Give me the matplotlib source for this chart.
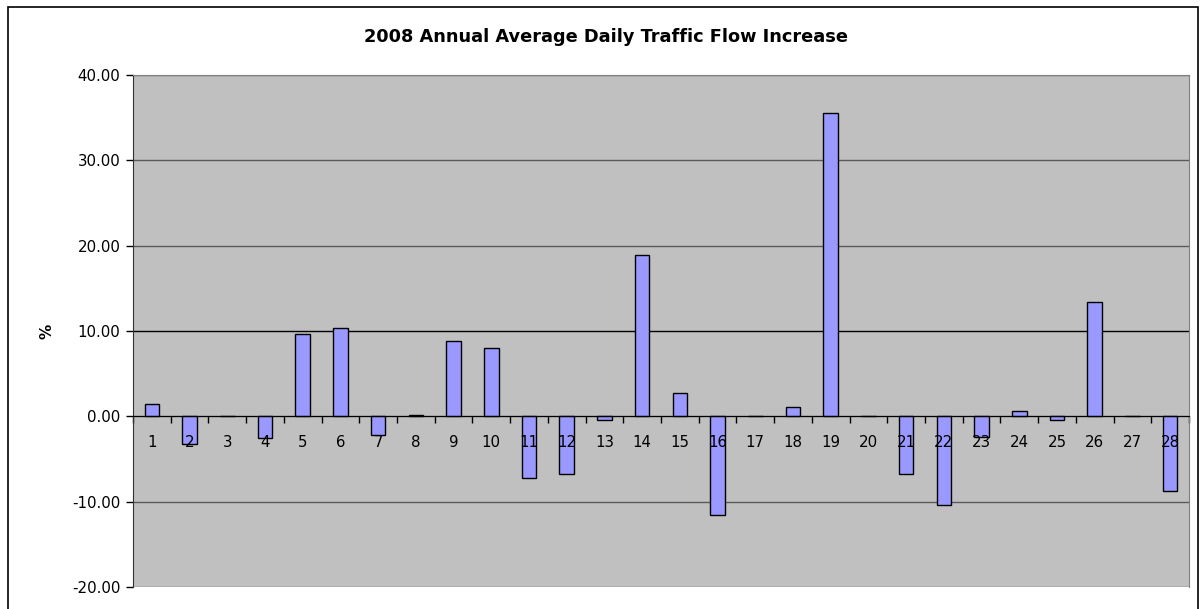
import numpy as np
import matplotlib.pyplot as plt
from matplotlib.patches import Rectangle

plt.rcParams['font.family'] = ['DejaVu Sans']

# site numbers and % change in annual average daily traffic
sites = list(range(1, 29))
increase = [1.4, -3.3, 0.0, -2.5, 9.6, 10.3, -2.2, 0.1, 8.8, 8.0,
            -7.2, -6.7, -0.45, 18.9, 2.7, -11.6, 0.0, 1.05, 35.6, 0.0,
            -6.7, -10.4, -2.45, 0.6, -0.45, 13.4, 0.0, -8.7]
y_ticks = [-20, -10, 0, 10, 20, 30, 40]

fig = plt.figure(figsize=(12.03, 6.09), dpi=100)
ax = fig.add_axes([133 / 1203, 1 - 587 / 609, (1189 - 133) / 1203, (587 - 75) / 609])
ax.set_facecolor('#C0C0C0')

x = np.arange(len(sites))
ax.bar(x, increase, width=0.39, color='#9999FF', edgecolor='black', linewidth=1, zorder=3)

ax.set_xlim(-0.5, len(sites) - 0.5)
ax.set_ylim(-20, 40)
ax.set_yticks(y_ticks)
ax.set_yticklabels([f'{v:.2f}' for v in y_ticks], fontsize=10.8)
ax.tick_params(axis='y', direction='out', length=5, width=1, pad=4)

# gridlines
ax.grid(axis='y', color='#5a5a5a', linewidth=1, zorder=1)
for line, v in zip(ax.get_ygridlines(), y_ticks):
    if v == 10:
        line.set_color('black')

# category axis sits at zero, ticks between categories
ax.spines['bottom'].set_position(('data', 0))
ax.spines['bottom'].set_zorder(4)
ax.set_xticks(np.arange(len(sites) + 1) - 0.5)
ax.set_xticklabels([])
ax.tick_params(axis='x', which='major', direction='out', length=5, width=1)

# category labels drawn over the bars
for xi, s in zip(x, sites):
    ax.text(xi, -3.1, str(s), fontsize=10.8, ha='center', va='center', zorder=6)

ax.spines['left'].set_color('#303030')
ax.spines['top'].set_color('#808080')
ax.spines['right'].set_color('#808080')

fig.text(47 / 1203, 1 - 331 / 609, '%', fontsize=11, fontweight='bold',
         rotation=90, ha='center', va='center')
fig.text(606 / 1203, 1 - 36.5 / 609, '2008 Annual Average Daily Traffic Flow Increase',
         fontsize=12.8, fontweight='bold', ha='center', va='center')

# chart border
fig.patches.append(Rectangle((8 / 1203, -0.05), (1198 - 8) / 1203, 1.05 - 6.5 / 609,
                             transform=fig.transFigure, fill=False,
                             edgecolor='black', linewidth=1.2))

fig.savefig('out.png', dpi=100)
